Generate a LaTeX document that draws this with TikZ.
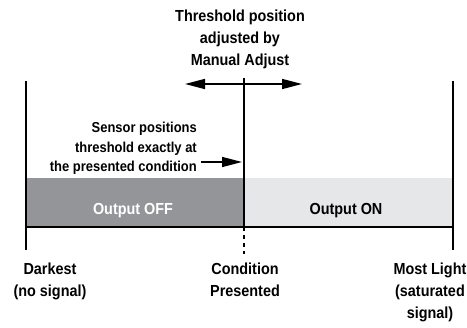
\documentclass[tikz,border=0pt]{standalone}
\usepackage{fontspec}
\setmainfont{Liberation Sans}[FakeStretch=0.9]
\usetikzlibrary{arrows.meta}
\definecolor{offgray}{RGB}{147,149,152}
\definecolor{ongray}{RGB}{230,231,232}

\begin{document}
\begin{tikzpicture}[x=1pt,y=-1pt,
                bigtxt/.style={font=\bfseries\fontsize{16}{22}\selectfont,align=center,inner sep=0pt},
                smalltxt/.style={font=\bfseries\fontsize{14.4}{19.5}\selectfont,align=right,inner sep=0pt},
                bar/.style={line width=2pt},
                pointer/.style={line width=1.5pt,-{Triangle[length=20pt,width=10pt]}}]
                \useasboundingbox (0,0) rectangle (467,328);
                % scale points
                \coordinate (darkTop) at (26,81);
                \coordinate (darkBot) at (26,250);
                \coordinate (lightTop) at (453,81);
                \coordinate (lightBot) at (453,250);
                \coordinate (threshTop) at (244,78);
                \coordinate (threshBase) at (244,227);
                \coordinate (condMark) at (244,254);
                \coordinate (adjLeft) at (185,84);
                \coordinate (adjRight) at (302,84);
                \coordinate (sensorTail) at (201,162);
                \coordinate (sensorTip) at (242,162);
                % output bands
                \fill[offgray] (26,178) rectangle (threshBase);
                \fill[ongray] (244,178) rectangle (453,227);
                \draw[bar] (darkTop)--(darkBot);
                \draw[bar] (lightTop)--(lightBot);
                \draw[bar] (26,227)--(453,227);
                \draw[bar] (threshTop)--(threshBase);
                \draw[bar,dash pattern=on 4pt off 4pt] (threshBase)--(condMark);
                \draw[line width=1.5pt,{Triangle[length=20pt,width=10pt]}-{Triangle[length=20pt,width=10pt]}] (adjLeft)--(adjRight);
                \draw[pointer] (sensorTail)--(sensorTip);
                % labels
                \node[bigtxt,anchor=north] (manual) at (240,10) {Threshold position\\adjusted by\\Manual Adjust};
                \node[smalltxt,anchor=north east] (sensor) at (197,122) {Sensor positions\\threshold exactly at\\the presented condition};
                \node[bigtxt,anchor=base,white] (off) at (133,215) {Output OFF};
                \node[bigtxt,anchor=base] (on) at (346,215) {Output ON};
                \node[bigtxt,anchor=north] (darkest) at (50,263) {Darkest\\(no signal)};
                \node[bigtxt,anchor=north] (condition) at (245,263) {Condition\\Presented};
                \node[bigtxt,anchor=north] (mostlight) at (430,263) {Most Light\\(saturated\\signal)};
            \end{tikzpicture}
\end{document}
